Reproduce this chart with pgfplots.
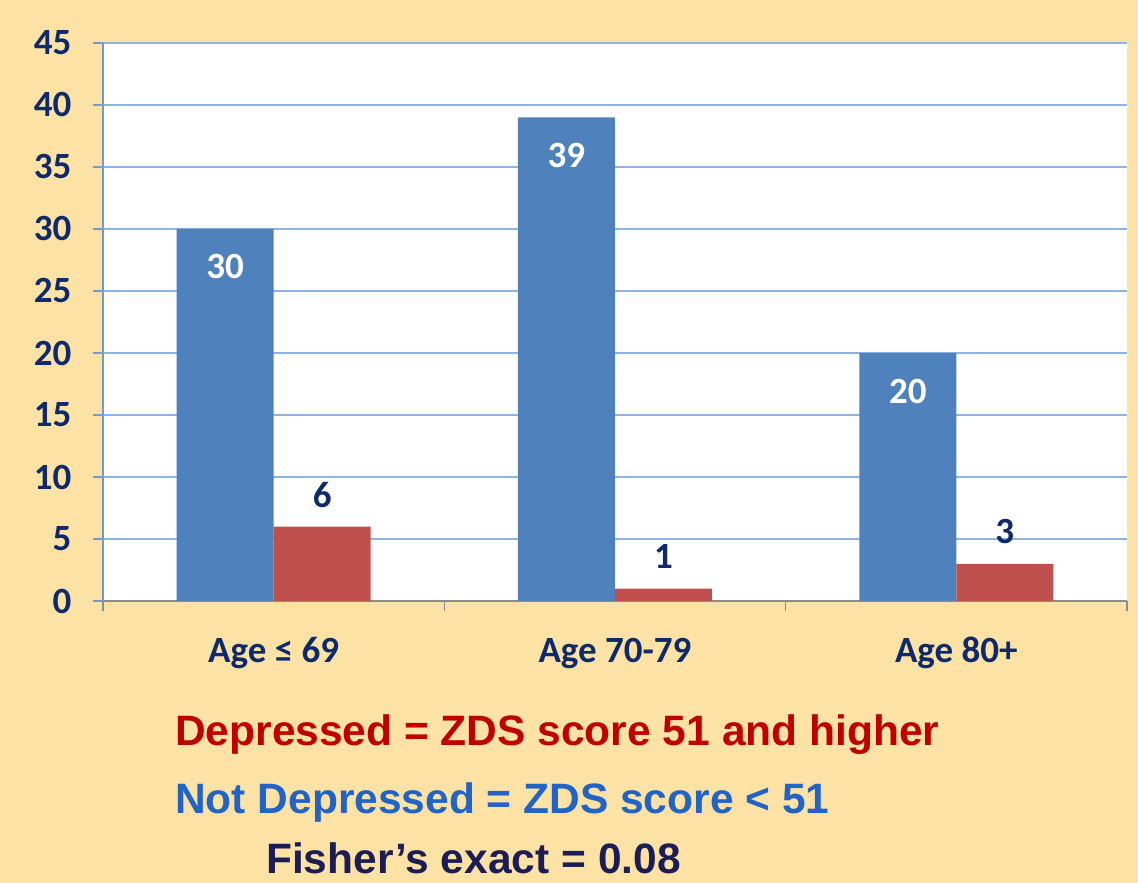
\documentclass[border=0pt]{standalone}
\usepackage{fontspec}
\setmainfont{Carlito}
\newfontfamily\arialf{Liberation Sans}
\usepackage{pgfplots}
\pgfplotsset{compat=1.18}
\definecolor{bg}{HTML}{FDE2A5}
\definecolor{barblue}{HTML}{4F81BD}
\definecolor{barred}{HTML}{C0504D}
\definecolor{gridblue}{HTML}{8EB4E3}
\definecolor{yaxisblue}{HTML}{6F9AD3}
\definecolor{navy}{HTML}{0E2A6A}
\definecolor{txtred}{HTML}{C00000}
\definecolor{txtblue}{HTML}{2163C6}
\definecolor{txtdark}{HTML}{1D1D55}
\begin{document}
\begin{tikzpicture}[x=1pt,y=1pt]
\fill[bg] (0,0) rectangle (1138,883);
\useasboundingbox (0,0) rectangle (1138,883);
\begin{axis}[
  at={(103pt,282pt)}, anchor=south west,
  scale only axis, width=1024pt, height=558pt,
  xmin=-0.5, xmax=2.5, ymin=0, ymax=45,
  ybar=0pt, bar width=97pt,
  ytick={0,5,...,45},
  xtick={-0.5,0.5,1.5,2.5}, xticklabels={},
  extra x ticks={0,1,2},
  extra x tick labels={Age ≤ 69, Age 70-79, Age 80+},
  extra x tick style={major tick length=0pt, tick style={draw=none}},
  axis x line*=bottom, axis y line*=left,
  x axis line style={draw=black!45, line width=1.5pt},
  y axis line style={draw=yaxisblue, line width=1.5pt},
  tick align=outside, major tick length=10pt,
  xtick style={draw=black!45, line width=1.5pt},
  ytick style={draw=yaxisblue, line width=1.5pt},
  ymajorgrids, major grid style={draw=gridblue, line width=1.5pt},
  axis background/.style={fill=white},
  /pgf/number format/assume math mode=true,
  yticklabel style={font=\fontsize{37}{37}\selectfont\bfseries, text=navy, xshift=-18pt},
  xticklabel style={font=\fontsize{37}{37}\selectfont\bfseries, text=navy, anchor=base, yshift=-62pt},
]
\addplot[fill=barblue, draw=none,
  nodes near coords,
  every node near coord/.append style={font=\fontsize{37}{37}\selectfont\bfseries, text=white, anchor=center, yshift=-38pt}]
  coordinates {(0,30) (1,39) (2,20)};
\addplot[fill=barred, draw=none,
  nodes near coords,
  every node near coord/.append style={font=\fontsize{37}{37}\selectfont\bfseries, text=navy, anchor=center, yshift=32pt}]
  coordinates {(0,6) (1,1) (2,3)};
\end{axis}
\node[anchor=base west, inner sep=0pt, text depth=0pt, text=txtred, font=\arialf\bfseries\fontsize{42.5}{50}\selectfont] at (175,137) {Depressed = ZDS score 51 and higher};
\node[anchor=base west, inner sep=0pt, text depth=0pt, text=txtblue, font=\arialf\bfseries\fontsize{42.5}{50}\selectfont] at (175,69) {Not Depressed = ZDS score < 51};
\node[anchor=base west, inner sep=0pt, text depth=0pt, text=txtdark, font=\arialf\bfseries\fontsize{42.5}{50}\selectfont] at (266,9) {Fisher’s exact = 0.08};
\end{tikzpicture}
\end{document}
